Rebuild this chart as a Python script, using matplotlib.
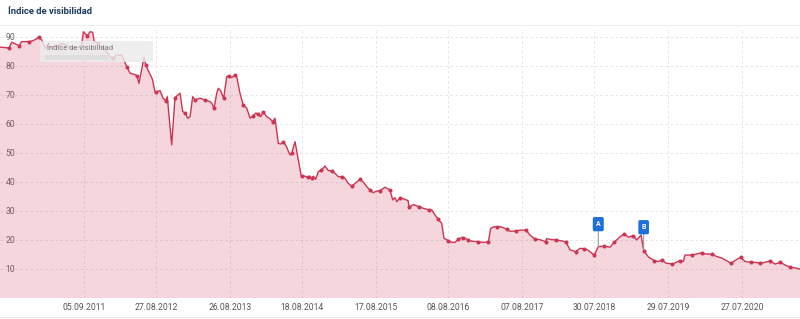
import matplotlib
matplotlib.use("Agg")
import matplotlib.pyplot as plt
from matplotlib.lines import Line2D
from matplotlib.patches import FancyBboxPatch, Rectangle
import numpy as np
from datetime import date

# ---------------- data ----------------
years = [2010.542, 2010.664, 2010.700, 2010.799, 2010.835, 2010.934, 2010.988, 2011.069, 2011.106, 2011.150,
         2011.191, 2011.241, 2011.285, 2011.326, 2011.376, 2011.443, 2011.511, 2011.600, 2011.646, 2011.668,
         2011.722, 2011.758, 2011.795, 2011.816, 2011.862, 2011.893, 2011.938, 2011.984, 2012.029, 2012.065,
         2012.119, 2012.187, 2012.225, 2012.254, 2012.299, 2012.343, 2012.393, 2012.420, 2012.488, 2012.511,
         2012.569, 2012.600, 2012.637, 2012.646, 2012.704, 2012.745, 2012.781, 2012.803, 2012.862, 2012.907,
         2012.975, 2013.011, 2013.046, 2013.079, 2013.110, 2013.146, 2013.181, 2013.245, 2013.312, 2013.380,
         2013.407, 2013.434, 2013.471, 2013.492, 2013.522, 2013.565, 2013.606, 2013.633, 2013.673, 2013.718,
         2013.741, 2013.785, 2013.830, 2013.876, 2013.921, 2013.965, 2014.002, 2014.033, 2014.065, 2014.100,
         2014.146, 2014.191, 2014.227, 2014.258, 2014.303, 2014.339, 2014.371, 2014.407, 2014.461, 2014.484,
         2014.529, 2014.610, 2014.623, 2014.664, 2014.700, 2014.731, 2014.754, 2014.779, 2014.808, 2014.844,
         2014.880, 2014.934, 2014.979, 2015.025, 2015.069, 2015.114, 2015.160, 2015.204, 2015.249, 2015.295,
         2015.340, 2015.407, 2015.452, 2015.498, 2015.542, 2015.587, 2015.623, 2015.677, 2015.745, 2015.813,
         2015.849, 2015.880, 2015.903, 2015.948, 2016.015, 2016.056, 2016.073, 2016.127, 2016.208, 2016.263,
         2016.344, 2016.380, 2016.421, 2016.465, 2016.511, 2016.542, 2016.600, 2016.646, 2016.691, 2016.736,
         2016.782, 2016.803, 2016.826, 2016.871, 2016.917, 2016.998, 2017.056, 2017.141, 2017.173, 2017.218,
         2017.263, 2017.299, 2017.390, 2017.434, 2017.515, 2017.569, 2017.650, 2017.704, 2017.772, 2017.840,
         2017.917, 2017.930, 2017.975, 2018.056, 2018.110, 2018.187, 2018.245, 2018.322, 2018.380, 2018.438,
         2018.488, 2018.573, 2018.627, 2018.709, 2018.786, 2018.844, 2018.921, 2018.979, 2019.033, 2019.100,
         2019.146, 2019.205, 2019.236, 2019.245, 2019.303, 2019.380, 2019.438, 2019.492, 2019.542, 2019.628,
         2019.687, 2019.732, 2019.776, 2019.799, 2019.890, 2019.957, 2020.025, 2020.069, 2020.160, 2020.228,
         2020.295, 2020.421, 2020.498, 2020.552, 2020.610, 2020.687, 2020.745, 2020.817, 2020.880, 2020.952,
         2021.015, 2021.087, 2021.151, 2021.218, 2021.309, 2021.353]

values = [86.5, 86.2, 88.2, 87.0, 88.4, 88.4, 88.7, 89.9, 89.0, 86.1,
          87.2, 86.1, 87.2, 86.8, 87.8, 87.2, 85.9, 86.3, 87.2, 91.8,
          90.4, 91.8, 91.6, 88.4, 87.8, 86.7, 86.1, 84.9, 83.2, 82.6,
          83.8, 83.8, 81.5, 79.8, 77.5, 77.2, 76.7, 74.0, 83.0, 80.3,
          77.2, 75.5, 71.1, 70.9, 71.5, 68.9, 68.0, 69.4, 52.8, 69.1,
          70.6, 64.3, 63.7, 62.0, 62.5, 69.4, 68.3, 68.9, 68.3, 67.7,
          67.0, 65.4, 70.6, 72.3, 71.5, 68.9, 76.3, 76.7, 76.0, 76.9,
          76.3, 70.6, 66.4, 65.5, 62.0, 62.9, 63.8, 63.3, 62.5, 64.2,
          62.5, 61.8, 60.8, 62.0, 53.3, 53.1, 53.9, 52.5, 49.3, 49.9,
          53.9, 42.4, 42.2, 42.0, 41.6, 42.0, 41.3, 42.0, 40.9, 43.6,
          44.0, 45.5, 43.9, 43.9, 43.0, 41.8, 41.8, 41.3, 39.5, 38.6,
          39.5, 40.9, 40.0, 38.4, 37.2, 36.3, 36.8, 37.0, 38.2, 37.2,
          33.8, 34.6, 33.2, 34.6, 34.0, 33.6, 31.3, 32.2, 31.5, 30.9,
          30.4, 30.3, 28.6, 27.2, 25.7, 20.6, 19.8, 19.2, 19.2, 20.2,
          20.9, 20.6, 20.6, 20.0, 19.6, 19.4, 19.2, 19.3, 24.0, 24.6,
          24.4, 24.6, 23.8, 23.0, 23.1, 23.4, 23.4, 21.7, 20.3, 20.1,
          19.4, 20.5, 20.2, 20.0, 19.8, 19.4, 16.6, 16.0, 17.1, 17.0,
          16.5, 14.8, 17.7, 17.9, 17.5, 19.3, 21.1, 22.1, 21.0, 21.5,
          20.0, 21.7, 17.0, 16.2, 14.2, 12.9, 12.6, 13.1, 12.0, 11.7,
          12.4, 12.9, 12.6, 14.8, 14.8, 15.2, 15.6, 15.2, 15.1, 14.3,
          13.8, 12.0, 13.3, 14.0, 12.6, 12.3, 12.3, 12.0, 12.3, 12.8,
          11.7, 12.3, 11.4, 10.6, 10.3, 9.9]

marker_years = [2010.664, 2010.799, 2010.934, 2011.069, 2011.722, 2011.862, 2012.065, 2012.254, 2012.393, 2012.511,
                2012.646, 2012.781, 2012.907, 2013.046, 2013.181, 2013.312, 2013.434, 2013.565, 2013.633, 2013.718,
                2013.830, 2013.965, 2014.033, 2014.100, 2014.227, 2014.371, 2014.484, 2014.623, 2014.700, 2014.754,
                2014.880, 2015.025, 2015.160, 2015.295, 2015.407, 2015.542, 2015.677, 2015.813, 2015.948, 2016.073,
                2016.208, 2016.344, 2016.465, 2016.600, 2016.736, 2016.803, 2016.871, 2016.998, 2017.141, 2017.263,
                2017.390, 2017.515, 2017.650, 2017.772, 2017.917, 2018.056, 2018.187, 2018.322, 2018.438, 2018.573,
                2018.709, 2018.844, 2018.979, 2019.100, 2019.245, 2019.380, 2019.492, 2019.628, 2019.732, 2019.890,
                2020.025, 2020.160, 2020.421, 2020.552, 2020.687, 2020.817, 2020.952, 2021.087, 2021.218]

tick_labels = ["05.09.2011", "27.08.2012", "26.08.2013", "18.08.2014", "17.08.2015",
               "08.08.2016", "07.08.2017", "30.07.2018", "29.07.2019", "27.07.2020"]
y_ticks = [10, 20, 30, 40, 50, 60, 70, 80, 90]

event_labels = ["A", "B"]
event_years = [2018.627, 2019.240]

title = "Índice de visibilidad"
tooltip_text = "Índice de visibilidad"

# ---------------- helpers ----------------
def to_year(s):
    d, m, y = [int(p) for p in s.split(".")]
    dt = date(y, m, d)
    start = date(y, 1, 1)
    ndays = (date(y + 1, 1, 1) - start).days
    return y + (dt - start).days / ndays

xs = np.array(years)
vs = np.array(values)
mx = np.array(marker_years)
mv = np.interp(mx, xs, vs)
tick_pos = [to_year(s) for s in tick_labels]

# ---------------- figure ----------------
plt.rcParams['font.family'] = ['Roboto', 'DejaVu Sans']
W, H = 800, 319
fig = plt.figure(figsize=(W / 100, H / 100), dpi=100)
ax = fig.add_axes([0, 1 - 298 / H, 1, (298 - 30) / H])

line_color = "#cc3552"
ax.fill_between(xs, vs, 0, color=line_color, alpha=0.2, linewidth=0, zorder=2)
ax.plot(xs, vs, color=line_color, lw=1.0, zorder=3)
ax.plot(mx, mv, 'o', color=line_color, ms=2.9, mew=0, zorder=4)

ax.set_xlim(2010.542, 2021.353)
ax.set_ylim(0, 92.4)

ax.set_xticks(tick_pos)
ax.set_xticklabels(tick_labels)
ax.set_yticks(y_ticks)
ax.set_yticklabels([str(v) for v in y_ticks])
ax.tick_params(axis='x', length=0, pad=3.5, labelsize=6.2, labelcolor="#555555")
ax.tick_params(axis='y', length=0, pad=-4, labelsize=6.2, labelcolor="#666666")
for lab in ax.get_yticklabels():
    lab.set_horizontalalignment('left')
    lab.set_zorder(6)

ax.grid(True, color="#e2e2e2", lw=0.6, linestyle=(0, (3, 3)), zorder=1)
ax.set_axisbelow(True)
for sp in ax.spines.values():
    sp.set_visible(False)

# event flags
for lab, ex in zip(event_labels, event_years):
    ev = float(np.interp(ex, xs, vs))
    ax.annotate(lab, xy=(ex, ev), xytext=(0, 16.2), textcoords='offset points',
                ha='center', va='center', fontsize=5, color='white', fontweight='bold',
                bbox=dict(boxstyle='round,pad=0.45,rounding_size=0.25', fc='#1f6fd8', ec='none'),
                arrowprops=dict(arrowstyle='-', color='#9a9a9a', lw=0.8, shrinkA=0, shrinkB=0),
                zorder=7)

# title and frame lines
fig.text(8 / W, 1 - 12 / H, title, fontsize=6.8, fontweight='bold', color="#1e3d5f",
         ha='left', va='center')
fig.add_artist(Line2D([0, 1], [1 - 25 / H, 1 - 25 / H], color="#eeeeee", lw=0.8))
fig.add_artist(Line2D([0, 1], [1 - 317 / H, 1 - 317 / H], color="#e6e6e6", lw=0.8))

# tooltip overlay
fig.add_artist(FancyBboxPatch((40 / W, 1 - 62 / H), 113 / W, 21 / H, transform=fig.transFigure,
                              boxstyle="round,pad=0,rounding_size=0.004",
                              facecolor="#ebebeb", edgecolor='none', alpha=0.82, zorder=8))
fig.add_artist(Rectangle((45 / W, 1 - 60 / H), 63 / W, 5 / H, transform=fig.transFigure,
                         facecolor="#dedede", edgecolor='none', alpha=0.9, zorder=9))
fig.text(47 / W, 1 - 48 / H, tooltip_text, fontsize=5.4, color="#777777",
         ha='left', va='center', zorder=10)

fig.savefig("out.png", dpi=100)
